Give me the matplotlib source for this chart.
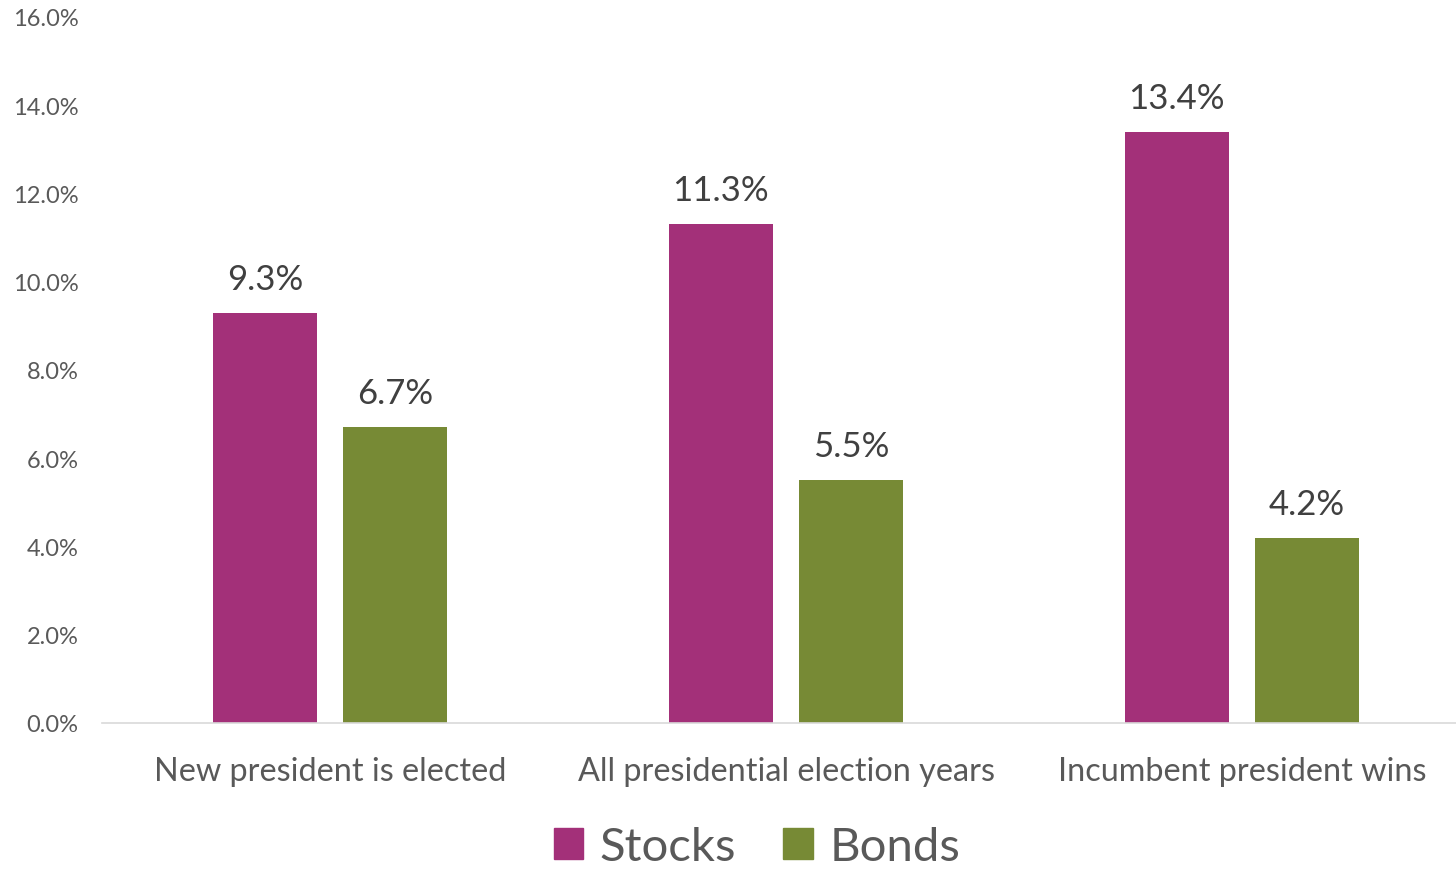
import matplotlib
matplotlib.use("Agg")
import matplotlib.pyplot as plt
import numpy as np
from matplotlib.patches import Patch

categories = ["New president is elected", "All presidential election years", "Incumbent president wins"]
stocks = [9.3, 11.3, 13.4]
bonds = [6.7, 5.5, 4.2]
yticks = [0, 2, 4, 6, 8, 10, 12, 14, 16]

STOCK_C = "#A33079"
BOND_C = "#778A35"
TEXT_C = "#595959"
FONT = ["Lato", "DejaVu Sans"]

plt.rcParams['font.family'] = FONT

fig = plt.figure(figsize=(14.56, 8.70), dpi=100)
ax = fig.add_axes([102/1456, 146/870, 1368/1456, 706/870])

x = np.arange(len(categories))
w = 0.228
off = 0.143
b1 = ax.bar(x - off, stocks, w, color=STOCK_C)
b2 = ax.bar(x + off, bonds, w, color=BOND_C)

for bars, vals in ((b1, stocks), (b2, bonds)):
    for r, v in zip(bars, vals):
        ax.annotate(f"{v:.1f}%", (r.get_x() + r.get_width()/2, v),
                    xytext=(0, 13), textcoords="offset points",
                    ha="center", va="bottom", fontsize=25, color="#404040")

ax.set_xlim(-0.5, 2.5)
ax.set_ylim(0, 16)
ax.set_yticks(yticks)
ax.set_yticklabels([f"{t:.1f}%" for t in yticks], fontsize=17, color=TEXT_C)
ax.set_xticks(x)
ax.set_xticklabels(categories, fontsize=23.3, color=TEXT_C)
ax.tick_params(axis="both", length=0)
ax.tick_params(axis="x", pad=24)
ax.tick_params(axis="y", pad=17)
for s in ("top", "right", "left"):
    ax.spines[s].set_visible(False)
ax.spines["bottom"].set_color("#D9D9D9")
ax.spines["bottom"].set_linewidth(1.2)

handles = [Patch(color=STOCK_C, label="Stocks"), Patch(color=BOND_C, label="Bonds")]
leg = fig.legend(handles=handles, loc="center", bbox_to_anchor=(757/1456, 1 - 848/870),
                 ncol=2, frameon=False, fontsize=34, handlelength=0.62, handleheight=0.62,
                 handletextpad=0.35, columnspacing=1.0)
for t in leg.get_texts():
    t.set_color(TEXT_C)

fig.savefig("out.png", dpi=100)
